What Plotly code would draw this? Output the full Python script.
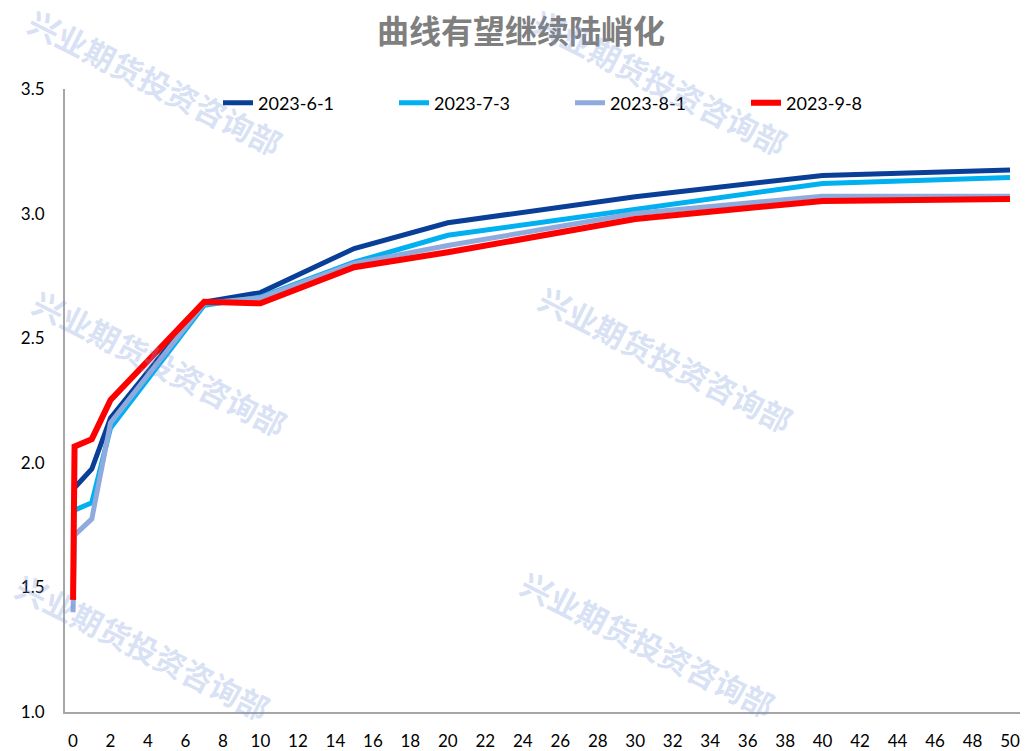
import plotly.graph_objects as go

tenors = [0, 0.08, 1, 2, 7, 10, 15, 20, 30, 40, 50]
series_names = ["2023-6-1", "2023-7-3", "2023-8-1", "2023-9-8"]
y_0601 = [None, 1.90, 1.975, 2.18, 2.645, 2.683, 2.86, 2.963, 3.068, 3.153, 3.175]
y_0703 = [None, 1.81, 1.84, 2.14, 2.632, 2.665, 2.805, 2.913, 3.015, 3.121, 3.145]
y_0801 = [1.40, 1.71, 1.775, 2.16, 2.64, 2.662, 2.80, 2.872, 3.00, 3.07, 3.07]
y_0908 = [1.45, 2.065, 2.095, 2.252, 2.646, 2.64, 2.785, 2.845, 2.978, 3.051, 3.059]
x_ticks = list(range(0, 51, 2))
y_ticks = [1.0, 1.5, 2.0, 2.5, 3.0, 3.5]

colors = ["#0A3F98", "#00B0F0", "#8FAADC", "#FF0000"]
widths = [5, 5, 5, 6]

# page body has an 8px margin; figure is sized to fill the rest of the window
OFF = 8
W, H = 1028 - OFF, 751 - OFF
L, T, B = 65 - OFF, 89 - OFF, 39
PW, PH = 963, 623

fig = go.Figure()
for name, ys, c, w in zip(series_names, [y_0601, y_0703, y_0801, y_0908], colors, widths):
    fig.add_trace(go.Scatter(x=tenors, y=ys, mode="lines", name=name,
                             line=dict(color=c, width=w), connectgaps=False))

# watermarks (screen pixel centres)
wm_text = "<b>兴业期货投资咨询部</b>"
for (px, py) in [(155, 82), (660, 82), (160, 362), (666, 358), (143, 646), (648, 643)]:
    fig.add_annotation(text=wm_text, xref="paper", yref="paper",
                       x=(px - 65) / PW, y=1 - (py - 89) / PH,
                       showarrow=False, textangle=27,
                       font=dict(family="Noto Sans CJK SC", size=31, color="rgba(120,155,220,0.3)"),
                       xanchor="center", yanchor="middle")

fig.update_layout(
    width=W, height=H,
    paper_bgcolor="white", plot_bgcolor="white",
    margin=dict(l=L, r=0, t=T, b=B, autoexpand=False),
    title=dict(text="<b>曲线有望继续陆峭化</b>", x=(521 - OFF) / W, xanchor="center",
               y=1 - (32 - OFF) / H, yanchor="middle",
               font=dict(family="Noto Sans CJK SC", size=32, color="#7F7F7F")),
    font=dict(family="Lato, Liberation Sans", size=17, color="black"),
    legend=dict(orientation="h", x=(218 - 65) / PW, xanchor="left",
                y=1 - (103 - 89) / PH, yanchor="middle",
                entrywidth=131, entrywidthmode="pixels", bgcolor="rgba(0,0,0,0)",
                font=dict(family="Lato, Liberation Sans", size=18, color="black")),
    showlegend=True,
)
fig.update_xaxes(range=[-0.43, 50.96], tickmode="array", tickvals=x_ticks, automargin=False,
                 showgrid=False, zeroline=False, showline=True, linecolor="#A6A6A6", linewidth=2,
                 ticks="", ticklabelstandoff=13)
fig.update_yaxes(range=[1.0, 3.5], tickmode="array", tickvals=y_ticks, tickformat=".1f", automargin=False,
                 showgrid=False, zeroline=False, showline=True, linecolor="#A6A6A6", linewidth=2,
                 ticks="", ticklabelstandoff=15)

fig.write_html("out.html")
